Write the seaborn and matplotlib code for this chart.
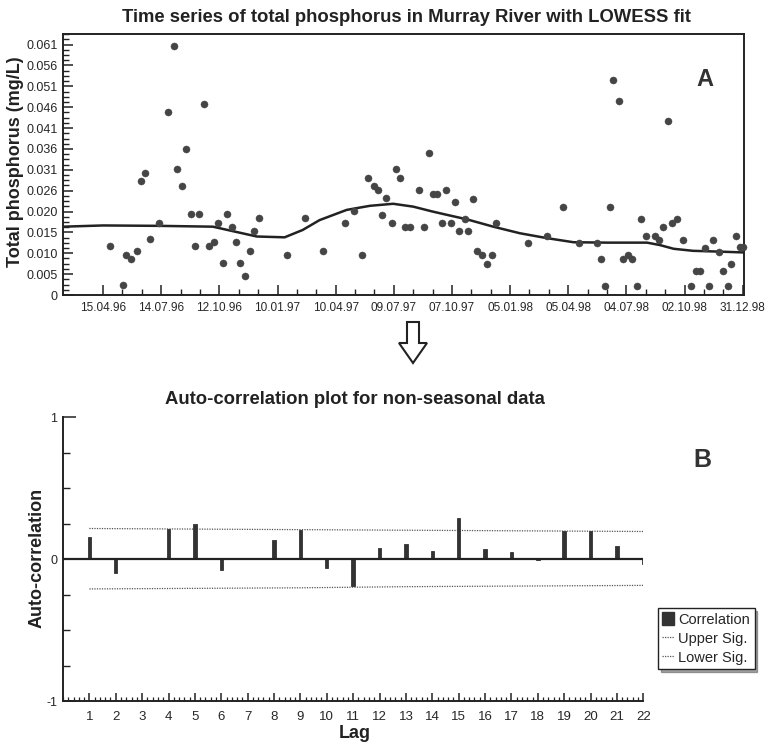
import numpy as np
import pandas as pd
import matplotlib
matplotlib.use("Agg")
import matplotlib.pyplot as plt
import matplotlib.dates as mdates
from matplotlib.patches import Patch, Polygon
from matplotlib.lines import Line2D
from matplotlib.ticker import FixedLocator, MultipleLocator
import seaborn as sns

# ----------------------------
# Data: total phosphorus samples (Murray River)
# ----------------------------
sample_dates = [
    "1996-04-26", "1996-05-16", "1996-05-21", "1996-05-28", "1996-06-06", "1996-06-12",
    "1996-06-19", "1996-06-26", "1996-07-10", "1996-07-25", "1996-08-03", "1996-08-08",
    "1996-08-15", "1996-08-21", "1996-08-29", "1996-09-05", "1996-09-11", "1996-09-18",
    "1996-09-26", "1996-10-04", "1996-10-10", "1996-10-17", "1996-10-24", "1996-10-31",
    "1996-11-07", "1996-11-13", "1996-11-20", "1996-11-28", "1996-12-04", "1996-12-12",
    "1997-01-24", "1997-02-21", "1997-03-21", "1997-04-24", "1997-05-08", "1997-05-21",
    "1997-05-30", "1997-06-08", "1997-06-14", "1997-06-21", "1997-06-27", "1997-07-06",
    "1997-07-12", "1997-07-19", "1997-07-26", "1997-08-03", "1997-08-17", "1997-08-24",
    "1997-09-01", "1997-09-08", "1997-09-14", "1997-09-21", "1997-09-28", "1997-10-05",
    "1997-10-12", "1997-10-18", "1997-10-27", "1997-11-01", "1997-11-09", "1997-11-15",
    "1997-11-23", "1997-12-01", "1997-12-08", "1997-12-14", "1998-02-02", "1998-03-03",
    "1998-03-28", "1998-04-22", "1998-05-19", "1998-05-26", "1998-06-01", "1998-06-08",
    "1998-06-14", "1998-06-22", "1998-06-29", "1998-07-06", "1998-07-13", "1998-07-20",
    "1998-07-27", "1998-08-03", "1998-08-17", "1998-08-24", "1998-08-30", "1998-09-07",
    "1998-09-13", "1998-09-20", "1998-09-29", "1998-10-12", "1998-10-19", "1998-10-26",
    "1998-11-02", "1998-11-09", "1998-11-15", "1998-11-24", "1998-12-01", "1998-12-09",
    "1998-12-13", "1998-12-21", "1998-12-27", "1998-12-31",
]
tp_values = [
    0.0120, 0.0024, 0.0099, 0.0089, 0.0108, 0.0279,
    0.0298, 0.0138, 0.0177, 0.0447, 0.0608, 0.0308,
    0.0267, 0.0358, 0.0198, 0.0119, 0.0198, 0.0468,
    0.0119, 0.0129, 0.0177, 0.0078, 0.0198, 0.0167,
    0.0129, 0.0078, 0.0047, 0.0108, 0.0157, 0.0188,
    0.0098, 0.0188, 0.0108, 0.0176, 0.0205, 0.0098,
    0.0287, 0.0267, 0.0257, 0.0196, 0.0236, 0.0176,
    0.0307, 0.0287, 0.0166, 0.0166, 0.0257, 0.0166,
    0.0346, 0.0247, 0.0247, 0.0176, 0.0257, 0.0176,
    0.0227, 0.0156, 0.0187, 0.0156, 0.0235, 0.0107,
    0.0097, 0.0077, 0.0097, 0.0176, 0.0126, 0.0145,
    0.0216, 0.0126, 0.0126, 0.0087, 0.0021, 0.0216,
    0.0526, 0.0475, 0.0087, 0.0097, 0.0087, 0.0021,
    0.0187, 0.0145, 0.0145, 0.0135, 0.0166, 0.0425,
    0.0175, 0.0187, 0.0135, 0.0021, 0.0058, 0.0058,
    0.0115, 0.0021, 0.0135, 0.0105, 0.0058, 0.0021,
    0.0075, 0.0145, 0.0117, 0.0117,
]

# LOWESS fit
lowess_dates = [
    "1996-02-13", "1996-04-15", "1996-07-12", "1996-10-02", "1996-11-02", "1996-12-09",
    "1997-01-21", "1997-02-18", "1997-03-16", "1997-04-27", "1997-06-02", "1997-07-08",
    "1997-08-08", "1997-09-07", "1997-09-29", "1997-10-30", "1997-12-10", "1998-01-20",
    "1998-03-03", "1998-04-13", "1998-06-04", "1998-08-05", "1998-08-25", "1998-09-15",
    "1998-10-15", "1998-11-26", "1999-01-02",
]
lowess_values = [
    0.0167, 0.0170, 0.0169, 0.0167, 0.0156, 0.0143,
    0.0141, 0.0159, 0.0183, 0.0208, 0.0218, 0.0223,
    0.0216, 0.0204, 0.0196, 0.0185, 0.0167, 0.0151,
    0.0139, 0.0129, 0.0128, 0.0128, 0.0122, 0.0113,
    0.0108, 0.0106, 0.0104,
]

date_tick_labels = ["15.04.96", "14.07.96", "12.10.96", "10.01.97", "10.04.97", "09.07.97",
                    "07.10.97", "05.01.98", "05.04.98", "04.07.98", "02.10.98", "31.12.98"]
tp_tick_labels = ["0", "0.005", "0.010", "0.015", "0.020", "0.026", "0.031",
                  "0.036", "0.041", "0.046", "0.051", "0.056", "0.061"]

# ----------------------------
# Data: autocorrelation
# ----------------------------
lags = list(range(1, 23))
acf_values = [0.155, -0.095, 0.0, 0.21, 0.25, -0.08, 0.0, 0.134, 0.205, -0.06, -0.19,
              0.08, 0.11, 0.06, 0.29, 0.07, 0.05, -0.005, 0.20, 0.20, 0.09, -0.035]
upper_sig = [0.216, 0.215, 0.214, 0.213, 0.212, 0.211, 0.210, 0.209, 0.208, 0.207, 0.206,
             0.205, 0.204, 0.203, 0.202, 0.201, 0.200, 0.199, 0.198, 0.197, 0.196, 0.195]
lower_sig = [-0.210, -0.209, -0.208, -0.207, -0.206, -0.205, -0.204, -0.203, -0.202, -0.200,
             -0.198, -0.196, -0.194, -0.193, -0.192, -0.191, -0.190, -0.189, -0.188, -0.187,
             -0.186, -0.185]

# ----------------------------
# Style
# ----------------------------
sns.set_style("white")
plt.rcParams["font.family"] = ["Liberation Sans", "DejaVu Sans"]
ink = "#222222"
dot_color = "#454545"
bar_color = "#333333"
sig_color = "#555555"

fig = plt.figure(figsize=(7.68, 7.47), dpi=100)

# ----------------------------
# Panel A: time series + LOWESS
# ----------------------------
ax1 = fig.add_axes([63 / 768, 1 - 295 / 747, 681 / 768, 261 / 747])
ts = pd.DataFrame({"date": pd.to_datetime(sample_dates), "tp": tp_values})
fit = pd.DataFrame({"date": pd.to_datetime(lowess_dates), "tp": lowess_values})

sns.scatterplot(data=ts, x="date", y="tp", ax=ax1, s=26, color=dot_color,
                edgecolor=dot_color, linewidth=0.3, zorder=3, clip_on=False)
sns.lineplot(data=fit, x="date", y="tp", ax=ax1, color=ink, lw=1.8, zorder=2)

ax1.set_xlim(pd.Timestamp("1996-02-13"), pd.Timestamp("1999-01-02"))
ax1.set_ylim(0, 0.0638)

major_dates = pd.to_datetime(date_tick_labels, format="%d.%m.%y")
ax1.xaxis.set_major_locator(FixedLocator(mdates.date2num(major_dates)))
ax1.set_xticklabels(date_tick_labels)
minor_dates = [d + pd.Timedelta(days=k) for d in major_dates[:-1] for k in (30, 60)]
ax1.xaxis.set_minor_locator(FixedLocator(mdates.date2num(minor_dates)))

ax1.set_yticks(np.arange(len(tp_tick_labels)) * 0.0051)
ax1.set_yticklabels(tp_tick_labels)
ax1.yaxis.set_minor_locator(MultipleLocator(0.0051 / 4))

ax1.tick_params(which="both", direction="in", color=ink, bottom=True, left=True)
ax1.tick_params(which="major", length=7, width=1.1, pad=5)
ax1.tick_params(which="minor", length=4, width=1.0)
ax1.tick_params(axis="x", labelsize=8.5)
ax1.tick_params(axis="y", labelsize=9, pad=4)
for sp in ax1.spines.values():
    sp.set_color(ink)
    sp.set_linewidth(1.4)

ax1.set_xlabel("")
ax1.set_ylabel("Total phosphorus (mg/L)", fontsize=13, fontweight="bold", color=ink)
ax1.yaxis.set_label_coords(-0.057, 0.51)
fig.text(705 / 768, 1 - 79 / 747, "A", fontsize=17, fontweight="bold", color="#333333",
         ha="center", va="center")
fig.text(406 / 768, 1 - 17 / 747, "Time series of total phosphorus in Murray River with LOWESS fit",
         fontsize=13.3, fontweight="bold", color=ink, ha="center", va="center")

# hollow arrow between the panels
arrow_px = [(407, 322), (419, 322), (419, 343), (427, 343), (413, 363), (399, 343), (407, 343)]
fig.patches.append(Polygon([(x / 768, 1 - y / 747) for x, y in arrow_px], closed=True,
                           transform=fig.transFigure, facecolor="white", edgecolor=ink, lw=1.5))

# ----------------------------
# Panel B: autocorrelation
# ----------------------------
ax2 = fig.add_axes([63 / 768, 1 - 701 / 747, 580.3 / 768, 283.7 / 747])
acf = pd.DataFrame({"lag": lags, "acf": acf_values, "upper": upper_sig, "lower": lower_sig})

sns.barplot(data=acf, x="lag", y="acf", ax=ax2, native_scale=True, width=0.13,
            color=bar_color, saturation=1, edgecolor=bar_color, linewidth=0.6, zorder=3)
ax2.axhline(0, color=ink, lw=1.6, zorder=4)
sns.lineplot(data=acf, x="lag", y="upper", ax=ax2, color=sig_color, lw=0.9, ls=(0, (1, 1)))
sns.lineplot(data=acf, x="lag", y="lower", ax=ax2, color=sig_color, lw=0.9, ls=(0, (1, 1)))

ax2.set_xlim(0, 22)
ax2.set_ylim(-1, 1)
ax2.xaxis.set_major_locator(FixedLocator(lags))
ax2.xaxis.set_minor_locator(MultipleLocator(0.2))
ax2.set_yticks([-1, 0, 1])
ax2.set_yticklabels(["-1", "0", "1"])
ax2.yaxis.set_minor_locator(MultipleLocator(0.25))
ax2.tick_params(which="both", direction="in", color=ink, bottom=True, left=True)
ax2.tick_params(axis="x", which="major", length=6, width=1.1, labelsize=9.5, pad=7)
ax2.tick_params(axis="x", which="minor", length=3, width=0.9)
ax2.tick_params(axis="y", which="major", length=9, width=1.1, labelsize=9, pad=4)
ax2.tick_params(axis="y", which="minor", length=5, width=1.0)
sns.despine(ax=ax2)
for side in ("left", "bottom"):
    ax2.spines[side].set_color(ink)
    ax2.spines[side].set_linewidth(1.4)

ax2.set_xlabel("Lag", fontsize=13, fontweight="bold", color=ink)
ax2.xaxis.set_label_coords(0.503, -0.083)
ax2.set_ylabel("Auto-correlation", fontsize=13, fontweight="bold", color=ink)
ax2.yaxis.set_label_coords(-0.030, 0.504)
fig.text(355 / 768, 1 - 400 / 747, "Auto-correlation plot for non-seasonal data",
         fontsize=13.3, fontweight="bold", color=ink, ha="center", va="center")
fig.text(702 / 768, 1 - 460 / 747, "B", fontsize=18, fontweight="bold", color="#333333",
         ha="center", va="center")

handles = [Patch(facecolor=bar_color, edgecolor=bar_color),
           Line2D([], [], color=sig_color, lw=0.9, ls=(0, (1, 1))),
           Line2D([], [], color=sig_color, lw=0.9, ls=(0, (1, 1)))]
fig.legend(handles, ["Correlation", "Upper Sig.", "Lower Sig."],
           loc="upper left", bbox_to_anchor=(658 / 768, 1 - 608 / 747), borderaxespad=0,
           fontsize=10.5, frameon=True, fancybox=False, shadow=True, edgecolor=ink,
           framealpha=1, handlelength=0.8, handleheight=1.0, handletextpad=0.3,
           labelspacing=0.3, borderpad=0.3)

fig.savefig("out.png", dpi=100)
